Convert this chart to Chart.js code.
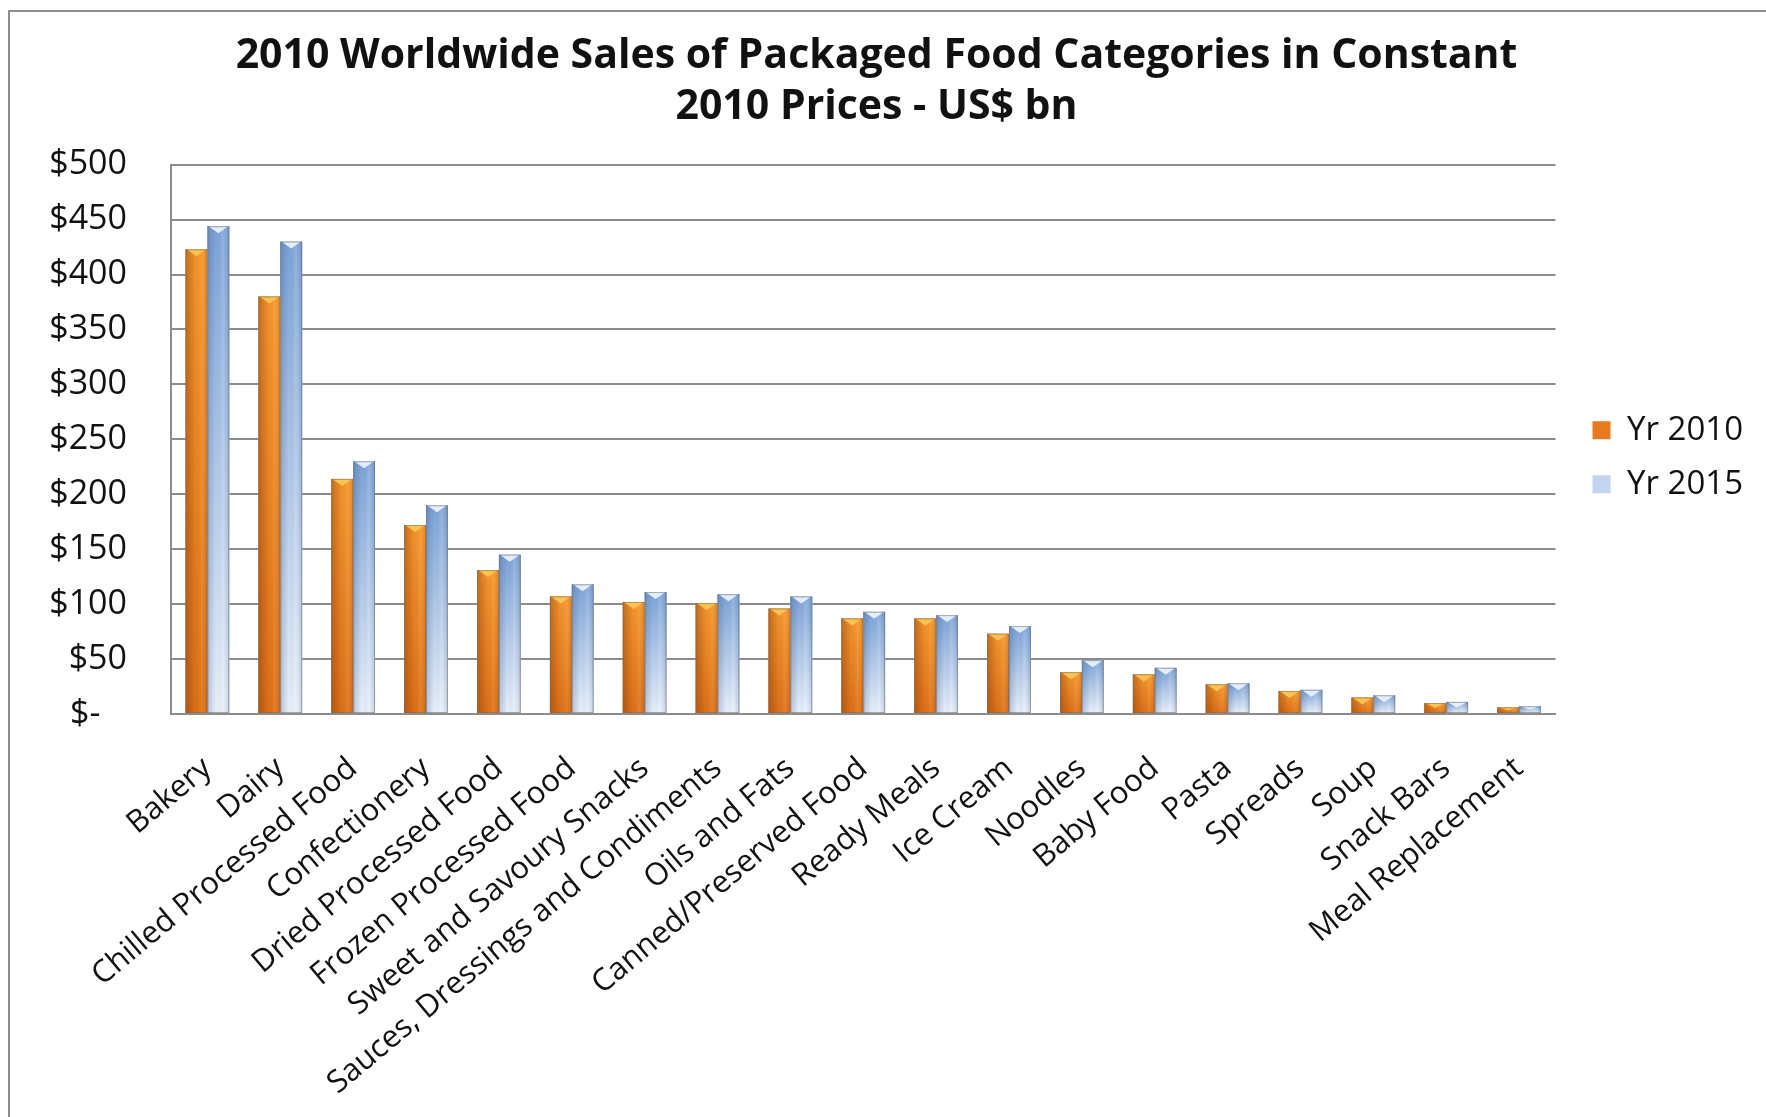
<!DOCTYPE html>
<html>
<head>
<meta charset="utf-8">
<title>Packaged Food Sales</title>
<script src="https://cdn.jsdelivr.net/npm/chart.js@4.4.0/dist/chart.umd.min.js"></script>
<style>
  html, body { margin: 0; padding: 0; background: #fff; }
  #contenedor { width: 1766px; height: 1117px; position: relative; }
</style>
</head>
<body>
<div id="contenedor"><canvas id="myChart"></canvas></div>
<script>
// Datos del gráfico (US$ bn, precios constantes 2010)
var categorias = ['Bakery', 'Dairy', 'Chilled Processed Food', 'Confectionery', 'Dried Processed Food',
    'Frozen Processed Food', 'Sweet and Savoury Snacks', 'Sauces, Dressings and Condiments', 'Oils and Fats',
    'Canned/Preserved Food', 'Ready Meals', 'Ice Cream', 'Noodles', 'Baby Food', 'Pasta', 'Spreads', 'Soup',
    'Snack Bars', 'Meal Replacement'];
var ventas2010 = [423, 380, 214, 172, 131, 107, 102, 101, 96, 87, 87, 73, 38, 36, 27, 21, 15, 10, 6];
var ventas2015 = [444, 430, 230, 190, 145, 118, 111, 109, 107, 93, 90, 80, 49, 42, 28, 22, 17, 11, 7];
var ticksEje = [0, 50, 100, 150, 200, 250, 300, 350, 400, 450, 500];
var series = ['Yr 2010', 'Yr 2015'];
var titulo = ['2010 Worldwide Sales of Packaged Food Categories in Constant', '2010 Prices - US$ bn'];

var fuente = 'Open Sans';

// Marco gris alrededor del gráfico
var marco = {
    id: 'marco',
    beforeDraw: function (chart) {
        var ctx = chart.ctx;
        ctx.save();
        ctx.fillStyle = '#ffffff';
        ctx.fillRect(0, 0, chart.width, chart.height);
        ctx.strokeStyle = '#8c8c8c';
        ctx.lineWidth = 2;
        ctx.beginPath();
        ctx.moveTo(9, chart.height);
        ctx.lineTo(9, 11);
        ctx.lineTo(chart.width, 11);
        ctx.stroke();
        ctx.restore();
    }
};

// Sombreado de las barras (degradado + bisel superior)
var sombreado = {
    id: 'sombreado',
    afterDatasetDraw: function (chart, args) {
        var ctx = chart.ctx;
        var naranja = args.index === 0;
        args.meta.data.forEach(function (bar) {
            var p = bar.getProps(['x', 'y', 'base', 'width'], true);
            var izq = p.x - p.width / 2;
            var der = p.x + p.width / 2;
            var alto = p.base - p.y;
            if (alto <= 0) return;
            ctx.save();

            var gv = ctx.createLinearGradient(0, p.y, 0, p.base);
            if (naranja) {
                gv.addColorStop(0, '#f7982f');
                gv.addColorStop(1, '#de721a');
            } else {
                gv.addColorStop(0, '#7ba2d6');
                gv.addColorStop(1, '#e9f0fa');
            }
            ctx.fillStyle = gv;
            ctx.fillRect(izq, p.y, p.width, alto);

            var gh = ctx.createLinearGradient(izq, 0, der, 0);
            if (naranja) {
                gh.addColorStop(0, 'rgba(110,40,0,0.38)');
                gh.addColorStop(0.45, 'rgba(110,40,0,0.06)');
                gh.addColorStop(0.75, 'rgba(255,210,140,0.12)');
                gh.addColorStop(1, 'rgba(110,40,0,0.15)');
            } else {
                gh.addColorStop(0, 'rgba(50,80,130,0.28)');
                gh.addColorStop(0.4, 'rgba(50,80,130,0.0)');
                gh.addColorStop(0.7, 'rgba(255,255,255,0.15)');
                gh.addColorStop(1, 'rgba(50,80,130,0.20)');
            }
            ctx.fillStyle = gh;
            ctx.fillRect(izq, p.y, p.width, alto);

            // bisel superior
            ctx.beginPath();
            ctx.moveTo(izq + 1, p.y);
            ctx.lineTo(der - 1, p.y);
            ctx.lineTo(p.x, p.y + Math.min(7, alto * 0.5));
            ctx.closePath();
            ctx.fillStyle = naranja ? '#ffc450' : '#e2eeff';
            ctx.fill();

            ctx.strokeStyle = 'rgba(110,110,110,0.55)';
            ctx.lineWidth = 1;
            ctx.strokeRect(izq + 0.5, p.y + 0.5, p.width - 1, alto - 1);
            ctx.restore();
        });
    }
};

var ctx = document.getElementById('myChart').getContext('2d');
var myChart = new Chart(ctx, {
    type: 'bar',
    data: {
        labels: categorias,
        datasets: [{
            label: series[0],
            data: ventas2010,
            backgroundColor: '#e57b1e',
            borderColor: '#b0560f',
            borderWidth: 0
        }, {
            label: series[1],
            data: ventas2015,
            backgroundColor: '#c3d4ee',
            borderColor: '#8aa6cf',
            borderWidth: 0
        }]
    },
    options: {
        responsive: true,
        maintainAspectRatio: false,
        animation: false,
        datasets: {
            bar: { categoryPercentage: 0.6, barPercentage: 1.0 }
        },
        layout: { padding: { left: 0, right: 13, top: 0, bottom: 0 } },
        plugins: {
            title: {
                display: true,
                text: titulo,
                color: '#111',
                font: { family: fuente, size: 41, weight: 'bold', lineHeight: 1.24 },
                padding: { top: 31, bottom: 32 }
            },
            legend: {
                position: 'right',
                fullSize: false,
                title: { display: true, text: '', padding: 6, font: { size: 20, lineHeight: 1.2 } },
                labels: {
                    color: '#111',
                    boxWidth: 18,
                    boxHeight: 18,
                    padding: 21,
                    font: { family: fuente, size: 33 }
                }
            },
            tooltip: { enabled: false }
        },
        scales: {
            x: {
                grid: { display: false, drawTicks: false },
                border: { display: true, color: '#8c8c8c', width: 2 },
                ticks: {
                    autoSkip: false,
                    minRotation: 40,
                    maxRotation: 40,
                    padding: 36,
                    color: '#111',
                    font: { family: fuente, size: 31 }
                },
                afterFit: function (scale) { scale.height = 403; }
            },
            y: {
                min: 0,
                max: 500,
                grid: { color: '#8c8c8c', lineWidth: 2, drawTicks: false },
                border: { display: true, color: '#8c8c8c', width: 2 },
                afterBuildTicks: function (scale) {
                    scale.ticks = ticksEje.map(function (v) { return { value: v }; });
                },
                ticks: {
                    padding: 44,
                    color: '#111',
                    font: { family: fuente, size: 34 },
                    callback: function (v) { return v === 0 ? '$-   ' : '$' + v; }
                },
                afterFit: function (scale) { scale.width = 171; }
            },
            // eje vacío: separa el área de datos de la leyenda
            separador: {
                type: 'linear',
                position: 'right',
                min: 0,
                max: 500,
                grid: { display: false, drawTicks: false },
                border: { display: false },
                ticks: { display: false },
                afterFit: function (scale) { scale.width = 16; }
            }
        }
    },
    plugins: [marco, sombreado]
});
</script>
</body>
</html>
